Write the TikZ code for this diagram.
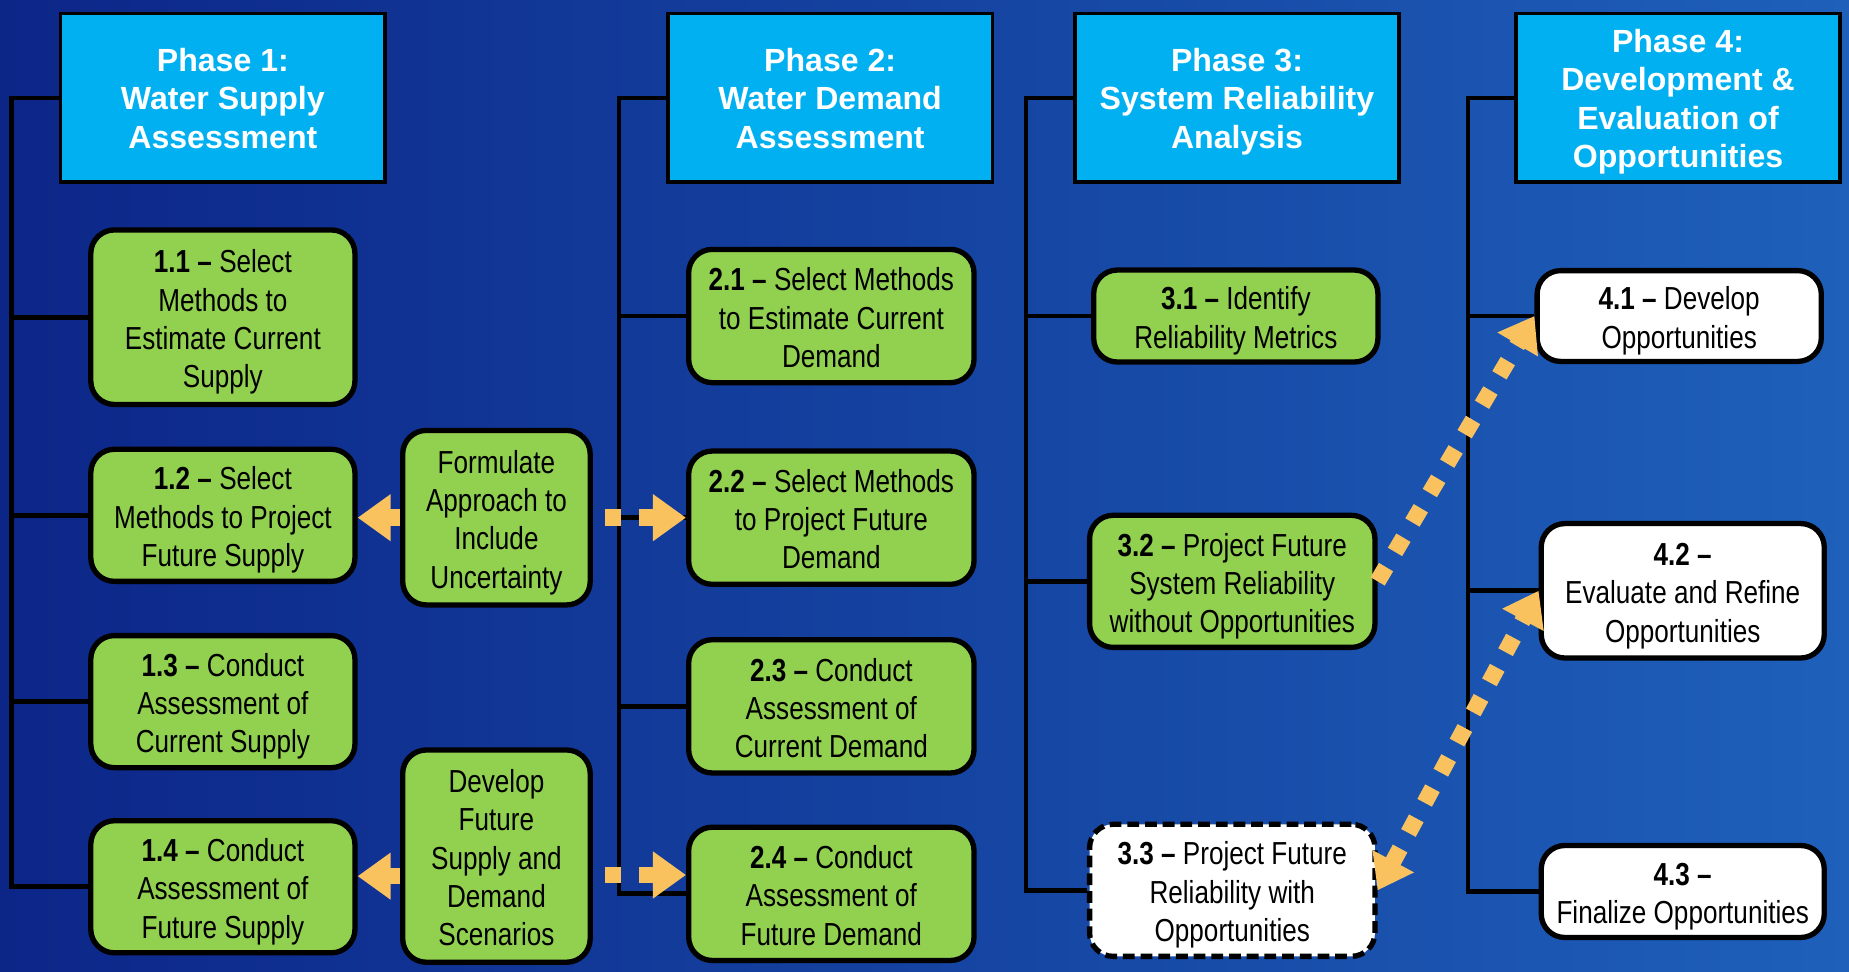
\documentclass[tikz,border=0pt]{standalone}
\usepackage{fontspec}
\setmainfont{Liberation Sans}
\newfontfamily\narrowfont{Liberation Sans}[FakeStretch=0.82]
\usetikzlibrary{arrows.meta}
\definecolor{bgL}{RGB}{12,38,136}
\definecolor{bgM}{RGB}{18,64,162}
\definecolor{bgR}{RGB}{30,96,186}
\definecolor{phasecyan}{RGB}{0,176,240}
\definecolor{taskgreen}{RGB}{146,208,80}
\definecolor{arroworange}{RGB}{250,194,95}
\newcommand\tstr{\rule{0pt}{14.5pt}}
\newcommand\pstr{\rule{0pt}{13.7pt}}
\begin{document}
\begin{tikzpicture}[x=0.5pt,y=-0.5pt,
  phasebox/.style={draw=black, line width=1.5pt, fill=phasecyan, text=white,
    font={\fontsize{13.6}{16.25}\selectfont\bfseries}, align=center, inner sep=0pt,
    minimum width=137.5pt, minimum height=71.5pt,
    execute at end node={\rule[-3.5pt]{0pt}{0pt}}},
  taskbox/.style={draw=black, line width=2.25pt, fill=taskgreen, rounded corners=10pt,
    font={\narrowfont\fontsize{13.5}{16.25}\selectfont}, align=center, inner sep=0pt,
    execute at end node={\rule[-3.5pt]{0pt}{0pt}}},
  whitebox/.style={taskbox, fill=white},
  spine/.style={draw=black, line width=2pt},
  flowarrow/.style={draw=arroworange, line width=7pt, dash pattern=on 7pt off 7.5pt,
    -{Triangle[length=14pt,width=19pt]}},
  bothtips/.style={{Triangle[length=14pt,width=19pt]}-{Triangle[length=14pt,width=19pt]}}
 ]
\useasboundingbox (0,0) rectangle (1568,824);
\fill[left color=bgL, middle color=bgM, right color=bgR] (0,0) rectangle (1568,824);

% spine x positions
\coordinate (s1) at (10,0);
\coordinate (s2) at (525,0);
\coordinate (s3) at (870,0);
\coordinate (s4) at (1245,0);

% phase headers
\node[phasebox] (p1) at (189,83) {\pstr Phase 1:\\Water Supply\\Assessment};
\node[phasebox] (p2) at (704,83) {\pstr Phase 2:\\Water Demand\\Assessment};
\node[phasebox] (p3) at (1049,83) {\pstr Phase 3:\\System Reliability\\Analysis};
\node[phasebox] (p4) at (1423,83) {\pstr Phase 4:\\Development \&\\Evaluation of\\Opportunities};

% phase 1 tasks
\node[taskbox, minimum width=112pt, minimum height=74pt] (t11) at (189,269)
  {\tstr\textbf{1.1 –} Select\\Methods to\\Estimate Current\\Supply};
\node[taskbox, minimum width=112pt, minimum height=56pt] (t12) at (189,437)
  {\tstr\textbf{1.2 –} Select\\Methods to Project\\Future Supply};
\node[taskbox, minimum width=112pt, minimum height=56pt] (t13) at (189,595)
  {\tstr\textbf{1.3 –} Conduct\\Assessment of\\Current Supply};
\node[taskbox, minimum width=112pt, minimum height=56pt] (t14) at (189,752)
  {\tstr\textbf{1.4 –} Conduct\\Assessment of\\Future Supply};

% middle boxes
\node[taskbox, minimum width=79.5pt, minimum height=74pt] (form) at (421,439)
  {\tstr Formulate\\Approach to\\Include\\Uncertainty};
\node[taskbox, minimum width=79.5pt, minimum height=90pt] (dev) at (421,726)
  {\tstr Develop\\Future\\Supply and\\Demand\\Scenarios};

% phase 2 tasks
\node[taskbox, minimum width=121pt, minimum height=56.5pt] (t21) at (705,268)
  {\tstr\textbf{2.1 –} Select Methods\\to Estimate Current\\Demand};
\node[taskbox, minimum width=121pt, minimum height=56.5pt] (t22) at (705,439)
  {\tstr\textbf{2.2 –} Select Methods\\to Project Future\\Demand};
\node[taskbox, minimum width=121pt, minimum height=56.5pt] (t23) at (705,599)
  {\tstr\textbf{2.3 –} Conduct\\Assessment of\\Current Demand};
\node[taskbox, minimum width=121pt, minimum height=56.5pt] (t24) at (705,758)
  {\tstr\textbf{2.4 –} Conduct\\Assessment of\\Future Demand};

% phase 3 tasks
\node[taskbox, minimum width=120.5pt, minimum height=39pt] (t31) at (1048,268)
  {\tstr\textbf{3.1 –} Identify\\Reliability Metrics};
\node[taskbox, minimum width=121pt, minimum height=56pt] (t32) at (1045,493)
  {\tstr\textbf{3.2 –} Project Future\\System Reliability\\without Opportunities};
\node[whitebox, dash pattern=on 5pt off 2.5pt, minimum width=121pt, minimum height=56pt] (t33) at (1045,755)
  {\tstr\textbf{3.3 –} Project Future\\Reliability with\\Opportunities};

% phase 4 tasks
\node[whitebox, minimum width=120.5pt, minimum height=38.5pt] (t41) at (1424,268)
  {\tstr\textbf{4.1 –} Develop\\Opportunities};
\node[whitebox, minimum width=120pt, minimum height=57pt] (t42) at (1427,501)
  {\tstr\textbf{4.2 –}\\Evaluate and Refine\\Opportunities};
\node[whitebox, minimum width=120pt, minimum height=39pt] (t43) at (1427,756)
  {\tstr\textbf{4.3 –}\\Finalize Opportunities};

% spines
\draw[spine] (p1.west) -- (p1.west -| s1) |- (t14.west);
\foreach \t in {t11,t12,t13} \draw[spine] (\t.west) -- (\t.west -| s1);
\draw[spine] (p2.west) -- (p2.west -| s2) |- (t24.west);
\foreach \t in {t21,t22,t23} \draw[spine] (\t.west) -- (\t.west -| s2);
\draw[spine] (p3.west) -- (p3.west -| s3) |- (t33.west);
\foreach \t in {t31,t32} \draw[spine] (\t.west) -- (\t.west -| s3);
\draw[spine] (p4.west) -- (p4.west -| s4) |- (t43.west);
\foreach \t in {t41,t42} \draw[spine] (\t.west) -- (\t.west -| s4);

% arrows
\draw[flowarrow] (form.west) -- (form.west -| t12.east);
\draw[flowarrow, dash phase=9.5pt] (form.east) -- (form.east -| t22.west);
\draw[flowarrow] ([yshift=-8.5pt]dev.west) -- ([yshift=-8.5pt]dev.west -| t14.east);
\draw[flowarrow, dash phase=9.5pt] ([yshift=-8pt]dev.east) -- ([yshift=-8pt]dev.east -| t24.west);
\draw[flowarrow] (t32.east) -- (t41.west);
\draw[flowarrow, bothtips] (t33.east) -- (t42.west);
\end{tikzpicture}
\end{document}
